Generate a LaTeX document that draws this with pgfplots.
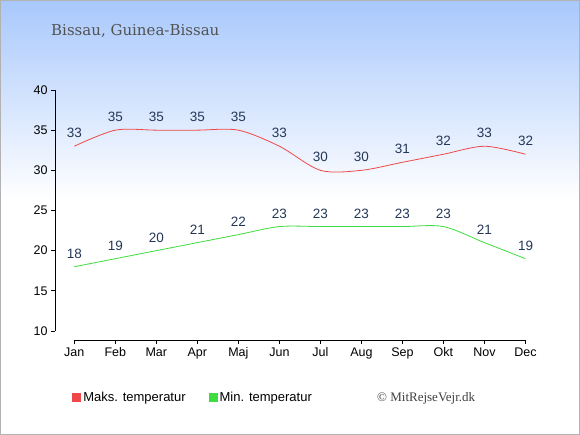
\documentclass[border=0pt]{standalone}
\usepackage{pgfplots}
\pgfplotsset{compat=1.18}
\usepackage{fontspec}
\setmainfont{Liberation Sans}
\newfontfamily\titlefont{DejaVu Serif}
\newfontfamily\copyfont{Liberation Serif}
\definecolor{bgtop}{HTML}{A8C8FC}
\definecolor{maxc}{HTML}{F04848}
\definecolor{minc}{HTML}{3EDC3E}
\definecolor{lab}{HTML}{253858}
\begin{document}
\begin{tikzpicture}[x=1pt,y=1pt]
\fill[white] (0,0) rectangle (580,435);
\shade[top color=bgtop, bottom color=white] (0,235) rectangle (580,435);
\draw[black!30, line width=1pt] (0.5,0.5) rectangle (579.5,434.5);
\node[anchor=base west, font=\titlefont\fontsize{15}{17}\selectfont, text=black!68, inner sep=0] at (51,399) {Bissau, Guinea-Bissau};
\begin{axis}[
 at={(55pt,95pt)}, anchor=south west,
 scale only axis, width=470.5pt, height=250pt,
 xmin=-0.47, xmax=11, ymin=8.88, ymax=40,
 axis line style={draw=none},
 xtick={0,...,11},
 xticklabels={Jan,Feb,Mar,Apr,Maj,Jun,Jul,Aug,Sep,Okt,Nov,Dec},
 ytick={10,15,...,40},
 tick style={black, line width=0.8pt},
 major tick length=4pt,
 tick align=outside, xtick pos=bottom, ytick pos=left,
 ticklabel style={font=\fontsize{12.5}{14}\selectfont, text=black},
 /pgf/number format/assume math mode=true,
 clip=false,
 nodes near coords,
 every node near coord/.append style={anchor=center, yshift=13pt, font=\fontsize{13.5}{15}\selectfont, text=lab},
 legend columns=2,
 legend style={draw=none, fill=none, at={(0.03,-0.232)}, anchor=west, font=\fontsize{13}{15}\selectfont, /tikz/every even column/.append style={column sep=21pt}},
 legend image code/.code={\fill[#1,draw=none] (0pt,-4.5pt) rectangle (9pt,4.5pt);},
]
\addplot[maxc, line width=0.8pt, smooth, tension=0.5, mark=none] coordinates {
(0,33) (1,35) (2,35) (3,35) (4,35) (5,33) (6,30) (7,30) (8,31) (9,32) (10,33) (11,32)};
\addplot[minc, line width=0.8pt, smooth, tension=0.5, mark=none] coordinates {
(0,18) (1,19) (2,20) (3,21) (4,22) (5,23) (6,23) (7,23) (8,23) (9,23) (10,21) (11,19)};
\legend{Maks. temperatur, Min. temperatur}
\draw[black, line width=0.8pt] (axis cs:-0.47,10) -- (axis cs:-0.47,40);
\draw[black, line width=0.8pt] (axis cs:0,8.88) -- (axis cs:11,8.88);
\end{axis}
\node[anchor=west, font=\copyfont\fontsize{13}{15}\selectfont, text=black!75, inner sep=0] at (377,37) {© MitRejseVejr.dk};
\end{tikzpicture}
\end{document}
